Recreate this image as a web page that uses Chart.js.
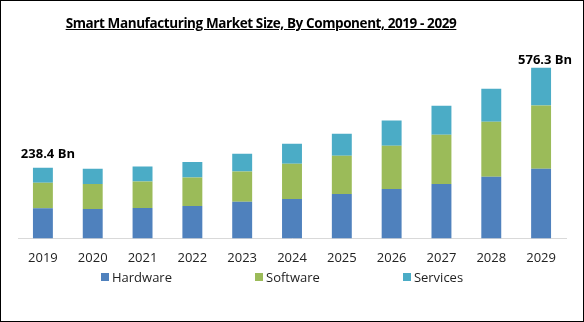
<!DOCTYPE html>
<html>
<head>
<meta charset="utf-8">
<script src="https://cdn.jsdelivr.net/npm/chart.js@4.4.1/dist/chart.umd.min.js"></script>
<style>
  html, body { margin: 0; padding: 0; background: #fff; }
  #wrap { position: relative; width: 584px; height: 322px; overflow: hidden; font-family: "Open Sans", sans-serif; }
  #frame { position: absolute; left: 0; top: 0; width: 584px; height: 322px; box-sizing: border-box; border: 1px solid #000; pointer-events: none; }
  #title { position: absolute; left: 0; width: 522px; top: 14px; text-align: center; font-weight: bold; font-size: 13.5px; letter-spacing: -0.4px; text-decoration: underline; color: #000; }
  #legend { position: absolute; left: 101px; top: 268px; display: flex; font-size: 13px; color: #222; }
  #legend .item { display: flex; align-items: center; margin-right: 83px; }
  #legend .sw { width: 8px; height: 8px; margin-right: 3px; }
</style>
</head>
<body>
<div id="wrap">
  <canvas id="c" width="584" height="322"></canvas>
  <div id="title">Smart Manufacturing Market Size, By Component, 2019 - 2029</div>
  <div id="legend"></div>
  <div id="frame"></div>
</div>
<script>
const years    = ['2019','2020','2021','2022','2023','2024','2025','2026','2027','2028','2029'];
const hardware = [102, 99, 103, 109.5, 124, 133, 150, 167, 184, 208, 235];
const software = [86, 85, 89, 96, 102, 119, 129, 146, 166, 186, 214];
const services = [50.4, 51, 51, 53, 60, 68, 75, 85, 98, 112, 127.3];
const totalLabels = ['238.4 Bn', '576.3 Bn'];

const colors = { Hardware: '#4f81bd', Software: '#9bbb59', Services: '#4bacc6' };

// etiquetas de total sobre la primera y la ultima barra
const totalsPlugin = {
  id: 'totals',
  afterDatasetsDraw(chart) {
    const meta = chart.getDatasetMeta(2);
    const first = meta.data[0], last = meta.data[meta.data.length - 1];
    const ctx = chart.ctx;
    ctx.save();
    ctx.font = 'bold 13px "Open Sans"';
    ctx.fillStyle = '#000';
    ctx.textAlign = 'center';
    ctx.textBaseline = 'middle';
    ctx.fillText(totalLabels[0], first.x + 5, first.y - 14);
    ctx.fillText(totalLabels[1], last.x + 4, last.y - 8);
    ctx.restore();
  }
};

const datasets = [
  { label: 'Hardware', data: hardware, backgroundColor: colors.Hardware },
  { label: 'Software', data: software, backgroundColor: colors.Software },
  { label: 'Services', data: services, backgroundColor: colors.Services }
];

new Chart(document.getElementById('c'), {
  type: 'bar',
  data: { labels: years, datasets },
  options: {
    responsive: false,
    animation: false,
    layout: { padding: { top: 49, left: 18, right: 18, bottom: 44 } },
    datasets: { bar: { barPercentage: 0.4, categoryPercentage: 1 } },
    scales: {
      x: {
        stacked: true,
        grid: { display: false, drawTicks: false },
        border: { display: true, color: '#d9d9d9', width: 1 },
        ticks: { padding: 12, color: '#222', font: { family: 'Open Sans', size: 13 } }
      },
      y: { stacked: true, display: false, min: 0, max: 640 }
    },
    plugins: {
      legend: { display: false },
      tooltip: { enabled: false }
    }
  },
  plugins: [totalsPlugin]
});

// leyenda en HTML (espaciado ancho como el original)
const legend = document.getElementById('legend');
datasets.forEach(d => {
  const it = document.createElement('div');
  it.className = 'item';
  it.innerHTML = `<span class="sw" style="background:${d.backgroundColor}"></span><span>${d.label}</span>`;
  legend.appendChild(it);
});
</script>
</body>
</html>
